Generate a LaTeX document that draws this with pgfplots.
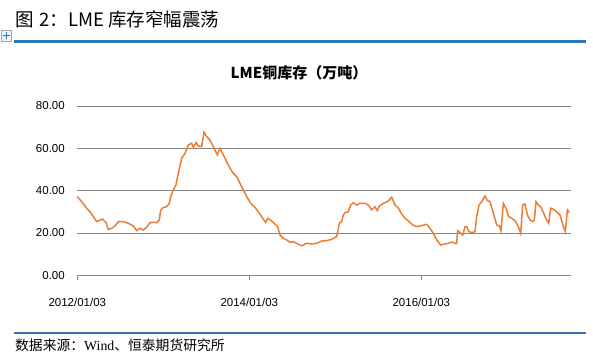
\documentclass[border=0pt]{standalone}
\usepackage{fontspec}
\setmainfont{Liberation Sans}
\newfontfamily\cjk{Noto Sans CJK SC}
\newfontfamily\serifw{Liberation Serif}
\usepackage{pgfplots}
\pgfplotsset{compat=1.18}
\definecolor{lmeorange}{HTML}{ED7D31}
\definecolor{rulblue}{HTML}{2E75B6}
\definecolor{gridgray}{HTML}{868686}
\begin{document}
\begin{tikzpicture}
\path[use as bounding box,fill=white] (0pt,0pt) rectangle (593pt,352pt);
% header
\node[anchor=west,inner sep=0pt] at (15pt,333pt) {\cjk\fontsize{18.5}{21}\selectfont 图\hspace{6pt}2：LME\hspace{4pt}库存窄幅震荡};
\draw[rulblue,line width=2.2pt] (14pt,310.5pt) -- (586pt,310.5pt);
\draw[gray!70,line width=0.5pt,fill=gray!8] (1pt,311pt) rectangle (11pt,322pt);
\draw[rulblue,line width=0.7pt] (2.5pt,316.5pt) -- (9.5pt,316.5pt) (6pt,313pt) -- (6pt,320pt);
% footer
\draw[rulblue,line width=2.2pt] (14pt,19.3pt) -- (586pt,19.3pt);
\node[anchor=west,inner sep=0pt] at (15pt,7pt) {\cjk\fontsize{13.8}{15}\selectfont 数据来源：{\serifw Wind}、恒泰期货研究所};
% chart title
\node[inner sep=0pt] at (299pt,279pt) {\cjk\bfseries\fontsize{15}{17}\selectfont LME铜库存（万吨）};
\begin{axis}[
  at={(77.3pt,76.7pt)}, anchor=south west,
  scale only axis, width=493.7pt, height=169.3pt,
  xmin=0, xmax=5.74, ymin=0, ymax=80,
  axis x line*=bottom, axis y line*=left,
  x axis line style={gridgray,line width=0.8pt,-},
  y axis line style={draw=none},
  xtick={0,2,4},
  xticklabels={2012/01/03,2014/01/03,2016/01/03},
  xtick style={gridgray,line width=0.8pt},
  major tick length=5pt,
  xtick align=outside,
  ytick={0,20,40,60,80},
  yticklabels={0.00,20.00,40.00,60.00,80.00},
  ymajorgrids,
  grid style={gridgray,line width=0.8pt},
  ytick style={draw=none},
  ticklabel style={font=\fontsize{11.5}{13}\selectfont},
  yticklabel style={xshift=-9pt},
  xticklabel style={yshift=-14pt},
  clip=false,
]
\addplot[lmeorange,line width=1.5pt] coordinates {
(0.000,37.2)(0.050,34.8)(0.109,31.7)(0.147,30.0)(0.186,27.7)(0.225,25.4)(0.264,26.1)(0.295,26.5)
(0.333,24.9)(0.360,21.7)(0.399,22.2)(0.438,23.3)(0.477,25.4)(0.535,25.4)(0.593,24.6)(0.651,23.3)
(0.690,21.1)(0.729,22.2)(0.767,21.4)(0.806,22.7)(0.845,24.9)(0.884,25.0)(0.922,24.9)(0.953,26.1)
(0.969,30.6)(1.000,32.1)(1.039,32.4)(1.070,34.0)(1.085,37.2)(1.116,40.3)(1.147,42.7)(1.174,48.2)
(1.213,55.3)(1.252,57.6)(1.291,61.6)(1.329,62.4)(1.349,60.5)(1.380,62.7)(1.407,61.1)(1.446,60.8)
(1.473,67.6)(1.504,65.5)(1.543,63.9)(1.581,60.8)(1.628,56.9)(1.659,60.0)(1.698,56.9)(1.736,53.7)
(1.775,50.6)(1.814,48.2)(1.853,46.6)(1.891,43.5)(1.930,40.3)(1.969,37.2)(2.016,34.0)(2.066,32.1)
(2.105,30.0)(2.143,27.7)(2.190,25.0)(2.213,26.9)(2.248,26.1)(2.287,24.6)(2.329,23.0)(2.357,19.0)
(2.395,17.5)(2.434,16.7)(2.473,15.6)(2.512,15.9)(2.550,15.1)(2.589,14.3)(2.609,14.0)(2.667,15.1)
(2.725,14.8)(2.783,15.1)(2.841,16.2)(2.901,16.4)(2.957,17.0)(3.016,18.3)(3.047,24.6)(3.074,25.4)
(3.093,28.5)(3.112,29.6)(3.151,30.0)(3.178,33.2)(3.209,34.3)(3.248,33.2)(3.287,34.0)(3.345,34.0)
(3.384,33.2)(3.422,30.9)(3.461,32.4)(3.488,30.6)(3.512,32.8)(3.558,34.0)(3.616,35.1)(3.655,36.9)
(3.694,33.2)(3.733,31.7)(3.771,29.0)(3.810,26.9)(3.849,25.7)(3.899,23.8)(3.946,23.0)(4.004,23.5)
(4.062,24.1)(4.101,22.2)(4.140,19.8)(4.178,16.7)(4.225,14.3)(4.275,14.8)(4.314,15.1)(4.353,15.7)
(4.391,15.1)(4.411,15.1)(4.422,21.1)(4.450,20.2)(4.481,19.0)(4.508,23.0)(4.527,23.0)(4.554,20.6)
(4.585,20.2)(4.624,20.6)(4.643,27.7)(4.671,33.2)(4.702,34.8)(4.740,37.5)(4.767,35.3)(4.798,34.8)
(4.837,29.3)(4.876,23.8)(4.907,23.3)(4.926,21.1)(4.953,34.0)(4.984,31.7)(5.012,28.0)(5.050,26.9)
(5.089,25.8)(5.128,23.0)(5.155,19.8)(5.178,33.2)(5.205,33.7)(5.233,28.5)(5.264,26.1)(5.295,25.4)
(5.314,26.1)(5.333,34.8)(5.360,33.2)(5.388,32.4)(5.426,29.0)(5.457,26.1)(5.481,24.6)(5.504,31.7)
(5.535,31.2)(5.574,30.0)(5.612,28.5)(5.651,23.0)(5.674,20.6)(5.698,30.9)(5.721,29.6)
};
\end{axis}
\end{tikzpicture}
\end{document}
